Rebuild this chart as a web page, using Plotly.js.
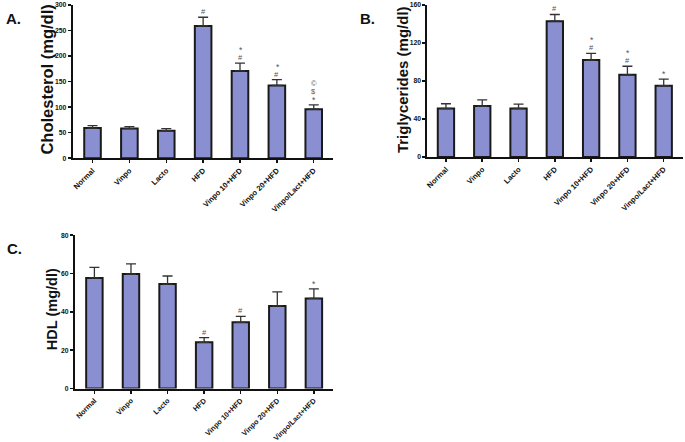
<!DOCTYPE html>
<html><head><meta charset="utf-8">
<script src="https://cdn.plot.ly/plotly-3.0.1.min.js"></script>
<style>html,body{margin:0;padding:0;background:#fff}#chart{width:685px;height:442px}</style>
</head><body><div id="chart"></div>
<script>
const categories = ["Normal","Vinpo","Lacto","HFD","Vinpo 10+HFD","Vinpo 20+HFD","Vinpo/Lact+HFD"];

const cholesterol = [59, 58, 54, 259, 171, 142.5, 96];
const cholesterolErr = [5, 4, 4, 17, 15, 11.5, 8.5];
const cholesterolSig = [[], [], [], ["#"], ["#", "*"], ["#", "*"], ["*", "$", "©"]];

const triglycerides = [51, 53.5, 51, 143, 102, 86.5, 75];
const triglyceridesErr = [5, 6.5, 4.5, 7, 7, 9, 7];
const triglyceridesSig = [[], [], [], ["#"], ["#", "*"], ["#", "*"], ["*"]];

const hdl = [57.7, 59.7, 54.5, 24.1, 34.5, 43.1, 47];
const hdlErr = [5.5, 5.3, 4.2, 2.4, 3.1, 7.3, 5];
const hdlSig = [[], [], [], ["#"], ["#"], [], ["*"]];

const yTicksA = [0, 50, 100, 150, 200, 250, 300];
const yTicksB = [0, 40, 80, 120, 160];
const yTicksC = [0, 20, 40, 60, 80];

const titleA = "Cholesterol (mg/dl)";
const titleB = "Triglycerides (mg/dl)";
const titleC = "HDL (mg/dl)";

const barColor = "#8a8fd1";
const font = "Liberation Sans, Arial, sans-serif";

function barTrace(vals, errs, xa, ya) {
  return {
    type: "bar", x: categories, y: vals, xaxis: xa, yaxis: ya, width: 0.45,
    marker: {color: barColor, line: {color: "#1a1a1a", width: 2}},
    error_y: {type: "data", symmetric: false, array: errs, arrayminus: errs.map(() => 0),
      color: "#333", thickness: 1.3, width: 5},
    hoverinfo: "none", showlegend: false
  };
}

function sigAnnots(vals, errs, sig, xr, yr) {
  const out = [];
  sig.forEach((list, i) => {
    list.forEach((s, k) => {
      out.push({text: s, x: categories[i], y: vals[i] + errs[i], xref: xr, yref: yr,
        yanchor: "bottom", showarrow: false, height: 7, borderpad: 0, valign: "middle",
        yshift: 1 + k * 8, xshift: (s === "*" && k > 0) ? 1 : 0,
        font: {family: font, size: s === "*" ? 8.5 : 7.5, color: "#555"}});
    });
  });
  return out;
}

function xAxis(domain, anchor, range, fs) {
  return {domain: domain, anchor: anchor, type: "category", range: range,
    showline: true, linecolor: "#111", linewidth: 2, ticks: "outside", ticklen: 3,
    tickwidth: 1.5, tickcolor: "#111", tickangle: -45, showgrid: false, zeroline: false,
    tickfont: {family: font, size: fs, color: "#111", weight: "bold"}};
}
function yAxis(domain, anchor, range, ticks) {
  return {domain: domain, anchor: anchor, range: range, tickvals: ticks,
    showline: true, linecolor: "#111", linewidth: 2, ticks: "outside", ticklen: 3,
    tickwidth: 1.5, tickcolor: "#111", showgrid: false, zeroline: false,
    tickfont: {family: font, size: 6.8, color: "#111", weight: "bold"}};
}

const data = [
  barTrace(cholesterol, cholesterolErr, "x", "y"),
  barTrace(triglycerides, triglyceridesErr, "x2", "y2"),
  barTrace(hdl, hdlErr, "x3", "y3")
];

const panelLabels = [
  {text: "A.", x: 0.006, y: 0.982},
  {text: "B.", x: 0.522, y: 0.982},
  {text: "C.", x: 0.008, y: 0.462}
].map(p => ({text: p.text, x: p.x, y: p.y, xref: "paper", yref: "paper", xanchor: "left",
  yanchor: "top", showarrow: false, font: {family: font, size: 15, color: "#111", weight: "bold"}}));

const yTitles = [
  {text: titleA, x: 0.068, y: 0.819, size: 16.5},
  {text: titleB, x: 0.587, y: 0.819, size: 15},
  {text: titleC, x: 0.077, y: 0.300, size: 14.5}
].map(p => ({text: p.text, x: p.x, y: p.y, xref: "paper", yref: "paper", textangle: -90,
  xanchor: "center", yanchor: "middle", showarrow: false,
  font: {family: font, size: p.size, color: "#111", weight: "bold"}}));

const layout = {
  width: 685, height: 442, margin: {l: 0, r: 0, t: 0, b: 0},
  paper_bgcolor: "#fff", plot_bgcolor: "#fff", bargap: 0.5,
  xaxis: xAxis([0.106, 0.486], "y", [-0.54, 6.52], 7.6),
  yaxis: yAxis([0.642, 0.9887], "x", [0, 300], yTicksA),
  xaxis2: xAxis([0.624, 0.997], "y2", [-0.51, 6.53], 7.6),
  yaxis2: yAxis([0.645, 0.9887], "x2", [0, 160], yTicksB),
  xaxis3: xAxis([0.1095, 0.486], "y3", [-0.53, 6.52], 7.3),
  yaxis3: yAxis([0.121, 0.468], "x3", [0, 80], yTicksC),
  annotations: panelLabels.concat(yTitles)
    .concat(sigAnnots(cholesterol, cholesterolErr, cholesterolSig, "x", "y"))
    .concat(sigAnnots(triglycerides, triglyceridesErr, triglyceridesSig, "x2", "y2"))
    .concat(sigAnnots(hdl, hdlErr, hdlSig, "x3", "y3"))
};

Plotly.newPlot("chart", data, layout, {displayModeBar: false, staticPlot: true});
</script></body></html>
